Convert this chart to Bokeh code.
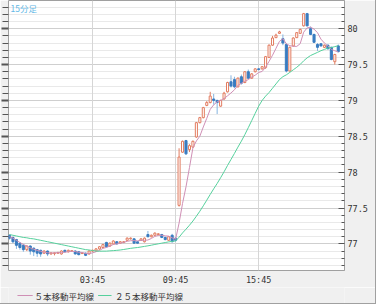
from bokeh.plotting import figure
from bokeh.models import (Range1d, LinearAxis, FixedTicker, Grid, Label, ColumnDataSource)
from bokeh.layouts import column
from bokeh.embed import file_html
from bokeh.resources import INLINE
from bokeh.core.properties import value

# ---------------- data (15-minute bars) ----------------
bar_index = list(range(96))
opens = [77.12, 77.09, 77.06, 77.01, 76.98, 76.92, 76.97, 76.94, 76.92, 76.91,
         76.87, 76.90, 76.86, 76.865, 76.87, 76.86, 76.91, 76.89, 76.90, 76.90,
         76.89, 76.865, 76.87, 76.86, 76.90, 76.90, 76.93, 76.95, 77.02, 76.97,
         77.00, 77.03, 77.01, 77.02, 77.05, 77.07, 77.07, 77.03, 77.05, 77.03,
         77.13, 77.10, 77.12, 77.13, 77.13, 77.09, 77.05, 77.12, 77.08, 77.537,
         78.278, 78.44, 78.315, 78.35, 78.49, 78.69, 78.76, 78.93, 78.97, 79.02,
         79.00, 78.92, 79.02, 79.12, 79.26, 79.29, 79.19, 79.33, 79.25, 79.40,
         79.31, 79.40, 79.44, 79.44, 79.46, 79.60, 79.77, 79.875, 79.935, 79.86,
         79.78, 79.41, 79.76, 79.875, 79.935, 80.04, 80.21, 80.00, 79.92, 79.78,
         79.79, 79.74, 79.77, 79.74, 79.54, 79.76]
highs = [77.13, 77.10, 77.07, 77.02, 77.00, 76.98, 76.98, 76.95, 76.93, 76.92,
         76.91, 76.91, 76.88, 76.88, 76.89, 76.91, 76.92, 76.92, 76.91, 76.91,
         76.90, 76.88, 76.88, 76.91, 76.92, 76.94, 76.97, 77.00, 77.03, 77.02,
         77.05, 77.04, 77.04, 77.04, 77.09, 77.09, 77.08, 77.04, 77.08, 77.09,
         77.18, 77.13, 77.16, 77.15, 77.14, 77.10, 77.11, 77.14, 77.09, 78.333,
         78.44, 78.45, 78.39, 78.44, 78.70, 78.77, 78.91, 78.99, 79.12, 79.09,
         79.01, 79.01, 79.12, 79.26, 79.35, 79.33, 79.32, 79.36, 79.41, 79.43,
         79.38, 79.45, 79.45, 79.48, 79.62, 79.78, 79.90, 79.93, 79.97, 79.92,
         79.80, 79.75, 79.88, 79.95, 80.00, 80.22, 80.22, 80.03, 79.93, 79.80,
         79.80, 79.78, 79.78, 79.75, 79.65, 79.78]
lows = [77.06, 77.01, 76.93, 76.92, 76.89, 76.90, 76.85, 76.83, 76.82, 76.82,
        76.86, 76.83, 76.85, 76.84, 76.86, 76.85, 76.88, 76.88, 76.89, 76.85,
        76.84, 76.86, 76.83, 76.85, 76.89, 76.89, 76.92, 76.94, 76.95, 76.96,
        76.99, 76.99, 77.00, 77.01, 77.04, 77.06, 77.00, 77.00, 77.04, 77.02,
        77.09, 77.09, 77.11, 77.12, 77.08, 77.05, 77.04, 77.02, 77.03, 77.52,
        78.27, 78.24, 78.28, 78.34, 78.48, 78.68, 78.75, 78.92, 78.96, 78.94,
        78.81, 78.91, 79.01, 79.11, 79.18, 79.17, 79.18, 79.22, 79.24, 79.30,
        79.30, 79.39, 79.42, 79.43, 79.44, 79.59, 79.76, 79.87, 79.93, 79.77,
        79.39, 79.40, 79.75, 79.87, 79.93, 80.03, 80.03, 79.91, 79.80, 79.69,
        79.75, 79.73, 79.71, 79.56, 79.50, 79.67]
closes = [77.08, 77.03, 76.98, 76.95, 76.92, 76.97, 76.90, 76.89, 76.87, 76.86,
          76.90, 76.86, 76.875, 76.875, 76.88, 76.90, 76.89, 76.91, 76.905, 76.86,
          76.85, 76.875, 76.84, 76.90, 76.91, 76.93, 76.96, 76.99, 76.96, 77.01,
          77.04, 77.00, 77.03, 77.03, 77.08, 77.08, 77.01, 77.01, 77.07, 77.08,
          77.10, 77.12, 77.15, 77.14, 77.09, 77.06, 77.10, 77.03, 77.05, 78.21,
          78.43, 78.255, 78.37, 78.43, 78.69, 78.76, 78.90, 78.97, 79.06, 79.00,
          78.97, 79.00, 79.10, 79.25, 79.20, 79.19, 79.31, 79.24, 79.40, 79.31,
          79.37, 79.44, 79.43, 79.47, 79.61, 79.77, 79.87, 79.91, 79.955, 79.80,
          79.41, 79.74, 79.87, 79.945, 79.99, 80.21, 80.04, 79.92, 79.81, 79.74,
          79.76, 79.77, 79.72, 79.57, 79.64, 79.68]
ma5 = [77.10, 77.08, 77.05, 77.02, 76.992, 76.970, 76.944, 76.926, 76.910, 76.898,
       76.884, 76.876, 76.873, 76.874, 76.878, 76.878, 76.884, 76.891, 76.897, 76.893,
       76.883, 76.880, 76.866, 76.865, 76.875, 76.891, 76.908, 76.938, 76.950, 76.970,
       76.992, 77.000, 77.008, 77.022, 77.036, 77.044, 77.046, 77.042, 77.050, 77.050,
       77.054, 77.076, 77.104, 77.118, 77.120, 77.112, 77.108, 77.084, 77.066, 77.290,
       77.564, 77.795, 78.063, 78.339, 78.435, 78.501, 78.630, 78.750, 78.876, 78.938,
       78.980, 79.000, 79.026, 79.064, 79.104, 79.148, 79.210, 79.238, 79.268, 79.290,
       79.326, 79.352, 79.390, 79.404, 79.464, 79.544, 79.630, 79.726, 79.823, 79.861,
       79.789, 79.763, 79.755, 79.753, 79.791, 79.951, 80.011, 80.021, 79.994, 79.944,
       79.854, 79.800, 79.760, 79.712, 79.692, 79.676]
ma25 = [77.13, 77.12, 77.11, 77.10, 77.09, 77.085, 77.075, 77.07, 77.06, 77.05,
        77.04, 77.03, 77.02, 77.01, 77.00, 76.99, 76.98, 76.97, 76.96, 76.95,
        76.94, 76.93, 76.92, 76.915, 76.907, 76.901, 76.898, 76.899, 76.899, 76.903,
        76.906, 76.910, 76.915, 76.922, 76.930, 76.938, 76.944, 76.949, 76.957, 76.965,
        76.973, 76.982, 76.992, 77.001, 77.010, 77.019, 77.028, 77.035, 77.041, 77.093,
        77.153, 77.205, 77.260, 77.319, 77.386, 77.455, 77.531, 77.609, 77.690, 77.767,
        77.842, 77.922, 78.005, 78.093, 78.177, 78.261, 78.349, 78.432, 78.523, 78.62,
        78.72, 78.82, 78.92, 79.00, 79.06, 79.11, 79.17, 79.23, 79.29, 79.331,
        79.357, 79.391, 79.427, 79.462, 79.502, 79.552, 79.593, 79.626, 79.648, 79.670,
        79.693, 79.711, 79.730, 79.737, 79.750, 79.763]
x_ticks = [24, 48, 72]
x_tick_labels = ["03:45", "09:45", "15:45"]
y_ticks = [77.0, 77.5, 78.0, 78.5, 79.0, 79.5, 80.0]
y_tick_labels = ["77", "77.5", "78", "78.5", "79", "79.5", "80"]
title_text = "15分足"
legend_labels = ["５本移動平均線", "２５本移動平均線"]

# ---------------- styling ----------------
UP = "#e27c60"
DOWN = "#3a7cc0"
DOWN_WICK = "#84b4e0"
MA5_COLOR = "#cf8fb5"
MA25_COLOR = "#55d09c"
MONO = "DejaVu Sans Mono"
JP = "Noto Sans CJK JP"
BG = "#f0f0f0"

x_start, x_end = -0.29, 96.8
y_start, y_end = 76.629, 80.393

p = figure(width=375, height=287, output_backend="svg", toolbar_location=None,
           x_range=Range1d(x_start, x_end), y_range=Range1d(y_start, y_end),
           x_axis_location=None, y_axis_location=None,
           min_border_left=8, min_border_right=31, min_border_top=0, min_border_bottom=16)
p.center = []
p.background_fill_color = "white"
p.border_fill_color = BG
p.outline_line_color = "#a0a0a0"

minor = [round(76.6 + 0.1 * k, 1) for k in range(39)]
minor = [m for m in minor if y_start < m < y_end and m not in y_ticks]
yticker = FixedTicker(ticks=y_ticks, minor_ticks=minor)
xticker = FixedTicker(ticks=x_ticks)

p.add_layout(Grid(dimension=1, ticker=yticker, grid_line_color="#cfcfcf",
                  minor_grid_line_color="#e9e9e9"))
p.add_layout(Grid(dimension=0, ticker=xticker, grid_line_color="#d6d6d6"))

ry = LinearAxis(ticker=yticker, major_label_overrides=dict(zip(y_ticks, y_tick_labels)),
                major_tick_in=6, major_tick_out=0, minor_tick_in=3, minor_tick_out=0,
                major_label_standoff=3, axis_line_color="#a0a0a0",
                major_tick_line_color="#555555", minor_tick_line_color="#555555",
                major_label_text_font=MONO, major_label_text_font_size="8.5px",
                major_label_text_color="#333333")
p.add_layout(ry, "right")

# left tick strip (no labels)
ly = LinearAxis(ticker=yticker, major_tick_in=0, major_tick_out=7, minor_tick_in=0,
                minor_tick_out=6, major_label_overrides={t: "" for t in y_ticks},
                major_label_standoff=0, axis_line_color=None,
                major_tick_line_color="#555555", major_tick_line_width=2,
                minor_tick_line_color="#555555")
p.add_layout(ly, "left")

bx = LinearAxis(ticker=xticker, major_label_overrides=dict(zip(x_ticks, x_tick_labels)),
                major_tick_in=0, major_tick_out=0, minor_tick_in=0, minor_tick_out=0,
                axis_line_color=None, major_label_standoff=4,
                major_label_text_font=MONO, major_label_text_font_size="8.5px",
                major_label_text_color="#333333")
p.add_layout(bx, "below")

up_idx = [k for k in bar_index if closes[k] >= opens[k]]
dn_idx = [k for k in bar_index if closes[k] < opens[k]]

def src(ids):
    return ColumnDataSource(dict(
        x=[bar_index[k] for k in ids],
        hi=[highs[k] for k in ids], lo=[lows[k] for k in ids],
        top=[max(opens[k], closes[k]) for k in ids],
        bot=[min(opens[k], closes[k]) for k in ids]))

su, sd = src(up_idx), src(dn_idx)
p.segment(x0="x", y0="hi", x1="x", y1="lo", source=sd, line_color=DOWN_WICK, line_width=1)
p.segment(x0="x", y0="hi", x1="x", y1="lo", source=su, line_color=UP, line_width=1)
p.vbar(x="x", top="top", bottom="bot", width=0.6, source=su,
       fill_color="white", line_color=UP, line_width=1)
p.vbar(x="x", top="top", bottom="bot", width=0.6, source=sd,
       fill_color=DOWN, line_color=DOWN, line_width=1)

p.line(bar_index, ma5, line_color=MA5_COLOR, line_width=1)
p.line(bar_index, ma25, line_color=MA25_COLOR, line_width=1)

px_per_bar = 336 / (x_end - x_start)
p.add_layout(Label(x=x_start + 2 / px_per_bar, y=y_end - 2 / 72, text=title_text,
                   text_font=JP, text_font_size="8.5px", text_color="#62b8e6",
                   text_baseline="top"))

# ---------------- legend strip (pixel space) ----------------
lg = figure(width=375, height=16, output_backend="svg", toolbar_location=None,
            x_axis_location=None, y_axis_location=None,
            x_range=Range1d(0, 375), y_range=Range1d(16, 0),
            min_border_left=0, min_border_right=0, min_border_top=0, min_border_bottom=0)
lg.center = []
lg.background_fill_color = BG
lg.border_fill_color = BG
lg.outline_line_color = None
legend_colors = [MA5_COLOR, MA25_COLOR]
sample_x0 = [10, 100]
sample_len = [17, 15]
text_gap = [2, 4]
for lab, col, x0, ln, gap in zip(legend_labels, legend_colors, sample_x0, sample_len, text_gap):
    lg.segment(x0=[x0], y0=[8], x1=[x0 + ln], y1=[8], line_color=col, line_width=1)
    lg.text(x=[x0 + ln + gap], y=[8.5], text=[lab], text_font=value(JP), text_font_size="8.5px",
            text_color="#333333", text_baseline="middle", text_align="left")

layout = column(p, lg, spacing=0,
                styles={"border-right": "1px solid #a0a0a0", "border-bottom": "1px solid #a0a0a0"})

open("out.html", "w").write(file_html(layout, INLINE))
